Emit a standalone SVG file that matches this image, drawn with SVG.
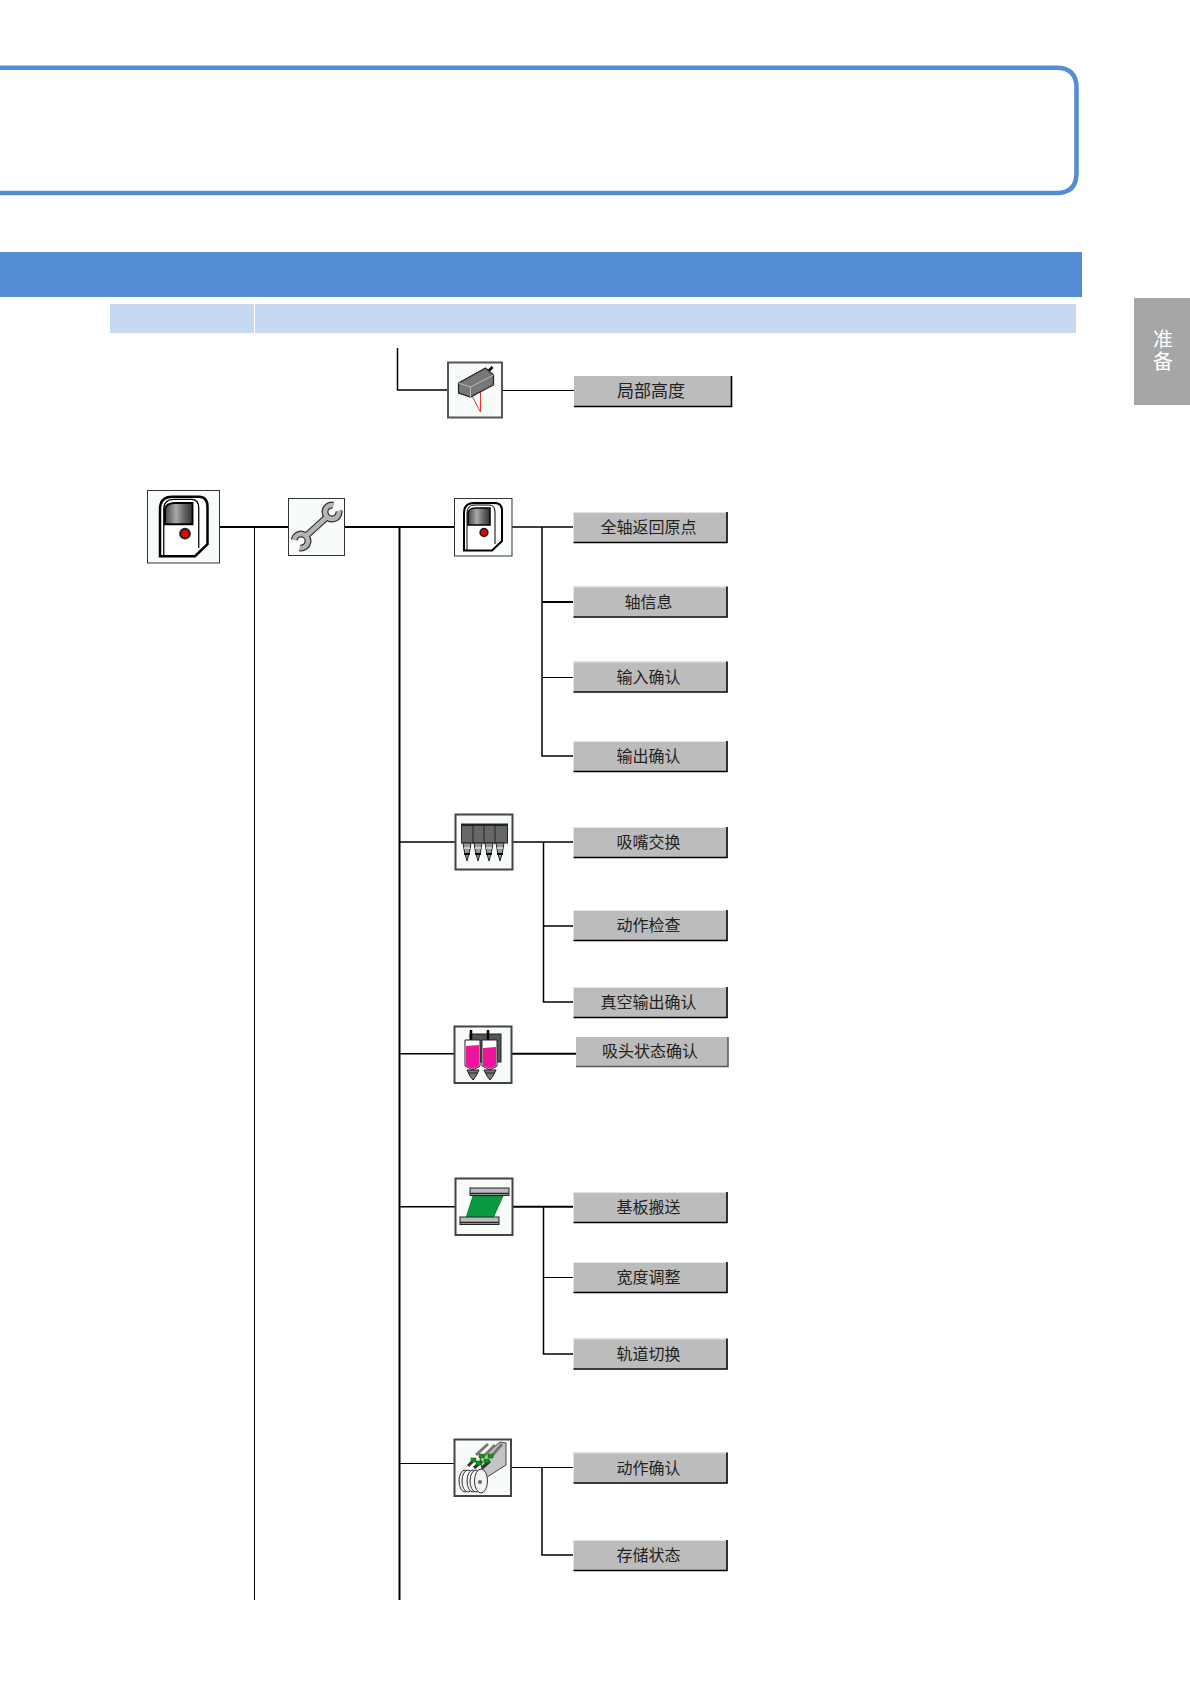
<svg xmlns="http://www.w3.org/2000/svg" xmlns:xlink="http://www.w3.org/1999/xlink" width="1190" height="1684" viewBox="0 0 1190 1684">
<style>
.c{fill:none;stroke:#000;stroke-width:1.5}
.t{stroke-width:2}
.n{stroke-width:1}
.ib{fill:#f8fcf8;stroke:#333;stroke-width:1.5}
.il{fill:#f8fcf8;stroke:#333;stroke-width:1}
.lb{font-family:"Noto Sans CJK SC","Liberation Sans",sans-serif;font-size:16px;fill:#222;text-anchor:middle;dominant-baseline:central}
.btn{fill:#bcbcbc}
.hi{fill:none;stroke:#e4e4e4;stroke-width:1}
.sh{fill:none;stroke:#000;stroke-width:1.6}
.tab{font-family:"Noto Sans CJK SC","Liberation Sans",sans-serif;font-size:20px;letter-spacing:2px;fill:#fff;text-anchor:middle;writing-mode:vertical-rl}
</style>
<defs>
<linearGradient id="scr" x1="0" x2="1" y1="0" y2="0">
<stop offset="0" stop-color="#444"/><stop offset=".4" stop-color="#aaa"/><stop offset=".7" stop-color="#666"/><stop offset="1" stop-color="#333"/>
</linearGradient>
<g id="machine">
<path d="M10,52.500V15Q10,5 20,5H41Q48,5 48,13V43L38,52.500Z" fill="#fff" stroke="#000" stroke-width="2"/>
<path d="M13,52V15Q13,7 21,7H35Q41,7 41,14V46" fill="none" stroke="#000" stroke-width="1"/>
<path d="M14,27V15Q15,10 22,10H36V27Z" fill="url(#scr)" stroke="#000" stroke-width="1.500"/>
<circle cx="30" cy="34.500" r="3.800" fill="#e00" stroke="#222" stroke-width="1.800"/>
</g>
<g id="btnshape">
<rect width="153" height="30" class="btn"/>
<path d="M0,30V0.500H153" class="hi"/>
<path d="M0,30.500H153.500V0" class="sh"/>
</g>
<path id="wrench" d="M18,38L39,19M45.200,7.100A7,7 0 1 0 50.900,12.800M11.800,49.900A7,7 0 1 0 6.100,41.800" fill="none"/>
</defs>

<path d="M-6,67.700H1056.500Q1076.500,67.700 1076.500,87.700V173Q1076.500,193 1056.500,193H-6" fill="none" stroke="#548dd4" stroke-width="4.500"/>
<rect x="0" y="252" width="1082" height="45" fill="#548dd4"/>
<rect x="110" y="304" width="144" height="29" fill="#c6d9f1"/>
<rect x="255" y="304" width="821" height="29" fill="#c6d9f1"/>
<g id="side-tab">
<rect x="1134" y="298" width="56" height="107" fill="#a6a6a6"/>
<text x="1163" y="351" class="tab">准备</text>
</g>

<g id="connectors">
<path class="c" d="M397.500,348V390H447"/>
<path class="c n" d="M503,390.500H575"/>
<path class="c t" d="M219,527H288"/>
<path class="c n" d="M254.500,527V1600"/>
<path class="c t" d="M344,527H454"/>
<path class="c t" d="M399.500,527V1600"/>
<path class="c" d="M512,527H574"/>
<path class="c" d="M542,527V756H574"/>
<path class="c t" d="M542,602H574"/>
<path class="c n" d="M542,677.500H574"/>
<path class="c" d="M399.500,842H455"/>
<path class="c" d="M513,842H574"/>
<path class="c" d="M543.500,842V1002H574"/>
<path class="c" d="M543.500,926H574"/>
<path class="c" d="M399.500,1053.700H454"/>
<path class="c t" d="M512,1053.700H576"/>
<path class="c" d="M399.500,1206.700H455"/>
<path class="c t" d="M513,1206.700H574"/>
<path class="c" d="M543.500,1206.700V1354H574"/>
<path class="c n" d="M543.500,1277.500H574"/>
<path class="c n" d="M399.500,1463.500H454"/>
<path class="c n" d="M511,1467.500H574"/>
<path class="c" d="M542,1467.700V1555H574"/>
</g>

<g id="node-root">
<rect x="147.500" y="490.500" width="72" height="72.500" class="il"/>
<use href="#machine" transform="translate(147.500,490.500) scale(1.250)"/>
</g>

<g id="node-wrench" transform="translate(288,498)">
<rect x=".5" y=".5" width="56" height="57" class="ib" style="stroke-width:1"/>
<use href="#wrench" stroke="#333" stroke-width="7"/>
<use href="#wrench" stroke="#b4b4b4" stroke-width="4.500"/>
</g>

<g id="node-sensor" transform="translate(447.500,362)">
<rect x="0.500" y="0.500" width="54" height="55" class="ib" style="stroke:#555;stroke-width:2"/>
<path d="M41,9L45,5" stroke="#000" stroke-width="2.500"/>
<path d="M24,33L33,50M33,29L33,50" stroke="#f03030" stroke-width="1" fill="none"/>
<path d="M11,21L38,6L46,13V23L23,35L11,31Z" fill="#777" stroke="#222" stroke-width="1.200"/>
<path d="M11,21L23,25L46,13M23,25V35" fill="none" stroke="#bbb" stroke-width="1"/>
</g>
<g id="node-axis" transform="translate(454,498)">
<rect x=".5" y=".5" width="57.500" height="57.500" class="il"/>
<use href="#machine"/>
</g>

<g id="node-nozzle" transform="translate(455,814)">
<rect x=".5" y=".5" width="57" height="55" class="ib" style="stroke:#444;stroke-width:2"/>
<rect x="6.500" y="10" width="46" height="19" fill="#666" stroke="#222"/>
<path d="M18,10V30M29,10V30M40,10V30" stroke="#222"/>
<path d="M7,11H52" stroke="#222" stroke-width="2"/>
<g fill="#999" stroke="#222" stroke-width="1">
<path d="M8,29H16L14.500,38L12,47L9.500,38Z"/>
<path d="M19,29H27L25.500,38L23,47L20.500,38Z"/>
<path d="M30,29H38L36.500,38L34,47L31.500,38Z"/>
<path d="M41,29H49L47.500,38L45,47L42.500,38Z"/>
</g>
<path d="M9,34H15M20,34H26M31,34H37M42,34H48" stroke="#ddd" stroke-width="1.500"/>
<path d="M9,40H15M20,40H26M31,40H37M42,40H48" stroke="#000" stroke-width="2"/>
</g>

<g id="node-head" transform="translate(454,1026)">
<rect x=".5" y=".5" width="57" height="56.500" class="ib" style="stroke:#444;stroke-width:2"/>
<rect x="16" y="8" width="31" height="28" fill="#555" stroke="#222"/>
<path d="M17,4V14M34,4V14" stroke="#000" stroke-width="2.500"/>
<path d="M11,14H26V40L19,44L11,40Z" fill="#fff" stroke="#222"/>
<path d="M28,14H43V40L36,44L28,40Z" fill="#fff" stroke="#222"/>
<path d="M12,20L25,19V40L19,43L12,40Z" fill="#f0149a"/>
<path d="M29,22L42,21V40L36,43L29,40Z" fill="#f0149a"/>
<path d="M13,44H25L22,50L19,54L16,50ZM30,44H42L39,50L36,54L33,50Z" fill="#777" stroke="#222"/>
<path d="M14,47H24M31,47H41" stroke="#222" stroke-width="1"/>
</g>

<g id="node-board" transform="translate(455,1178)">
<rect x=".5" y=".5" width="57" height="56.500" class="ib" style="stroke:#444;stroke-width:2"/>
<path d="M18,18H48L38,40H11Z" fill="#0a9a40" stroke="#063" stroke-width=".8"/>
<rect x="15" y="10" width="39" height="7.500" fill="#bbb" stroke="#222"/>
<rect x="5" y="39" width="39" height="7.500" fill="#bbb" stroke="#222"/>
<path d="M15,15.500H54M5,44.500H44" stroke="#222" stroke-width="1.500"/>
</g>

<g id="node-feeder" transform="translate(454,1439)">
<rect x=".5" y=".5" width="56.500" height="56.500" class="ib" style="stroke:#444;stroke-width:2"/>
<path d="M30,40L52,26V4L46,3L26,20Z" fill="#c4c4c4" stroke="#444"/>
<path d="M22,16L34,5M29,18L41,6M36,19L48,5" stroke="#777" stroke-width="3"/>
<path d="M14,27L20,21M20,29L28,22M28,29L36,22" stroke="#333" stroke-width="3"/>
<g fill="#0a9a10" stroke="#060" stroke-width=".5">
<rect x="17" y="19" width="5" height="4"/><rect x="25" y="15" width="5" height="4"/><rect x="34" y="15" width="5" height="4"/>
<rect x="22" y="22" width="5" height="4"/><rect x="30" y="20" width="5" height="4"/>
</g>
<g fill="#f4f4f4" stroke="#333">
<ellipse cx="11" cy="42" rx="6" ry="11"/>
<ellipse cx="14" cy="42" rx="6" ry="11"/>
<ellipse cx="19" cy="42" rx="6" ry="11"/>
<ellipse cx="22" cy="42" rx="6" ry="11"/>
<ellipse cx="27" cy="42" rx="6.500" ry="12"/>
</g>
<circle cx="26" cy="43" r="2" fill="#666"/>
</g>

<g id="btn-local" transform="translate(574,376)">
<rect width="157" height="30" class="btn"/>
<path d="M0,30.500H157.500V0" class="sh"/>
<text x="77" y="13.500" class="lb" style="font-size:17px">局部高度</text>
</g>
<g id="btn-1" transform="translate(573.500,512)"><use href="#btnshape"/><text x="75" y="14" class="lb">全轴返回原点</text></g>
<g id="btn-2" transform="translate(573.500,586.500)"><use href="#btnshape"/><text x="75" y="14" class="lb">轴信息</text></g>
<g id="btn-3" transform="translate(573.500,661.500)"><use href="#btnshape"/><text x="75" y="14" class="lb">输入确认</text></g>
<g id="btn-4" transform="translate(573.500,741)"><use href="#btnshape"/><text x="75" y="14" class="lb">输出确认</text></g>
<g id="btn-5" transform="translate(573.500,827)"><use href="#btnshape"/><text x="75" y="14" class="lb">吸嘴交换</text></g>
<g id="btn-6" transform="translate(573.500,910)"><use href="#btnshape"/><text x="75" y="14" class="lb">动作检查</text></g>
<g id="btn-7" transform="translate(573.500,987)"><use href="#btnshape"/><text x="75" y="14" class="lb">真空输出确认</text></g>
<g id="btn-8" transform="translate(576,1037)"><rect width="152" height="29.500" class="btn"/><path d="M0,29.500H152V0" fill="none" stroke="#555" stroke-width="1.500"/><text x="74" y="13" class="lb">吸头状态确认</text></g>
<g id="btn-9" transform="translate(573.500,1192)"><use href="#btnshape"/><text x="75" y="14" class="lb">基板搬送</text></g>
<g id="btn-10" transform="translate(573.500,1262)"><use href="#btnshape"/><text x="75" y="14" class="lb">宽度调整</text></g>
<g id="btn-11" transform="translate(573.500,1338.500)"><use href="#btnshape"/><text x="75" y="14" class="lb">轨道切换</text></g>
<g id="btn-12" transform="translate(573.500,1452.500)"><use href="#btnshape"/><text x="75" y="14" class="lb">动作确认</text></g>
<g id="btn-13" transform="translate(573.500,1540)"><use href="#btnshape"/><text x="75" y="14" class="lb">存储状态</text></g>
</svg>
